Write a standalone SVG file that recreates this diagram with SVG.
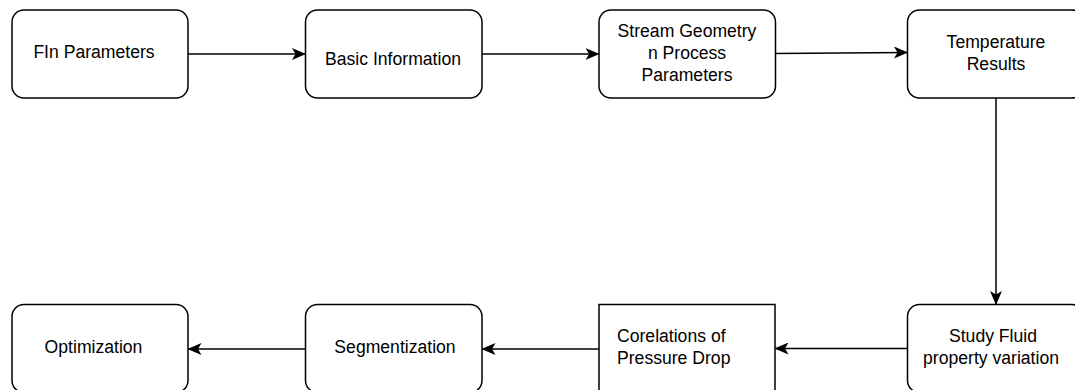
<svg xmlns="http://www.w3.org/2000/svg" width="1075" height="390" viewBox="0 0 1075 390">
<style>
.box{fill:#fff;stroke:#000;stroke-width:1.5}
.t{font-family:"Liberation Sans",Arial,sans-serif;font-size:17.6px;fill:#000;text-anchor:middle}
.l{text-anchor:start}
.c{fill:none;stroke:#000;stroke-width:1.5}
</style>
<defs>
<marker id="arr" markerUnits="userSpaceOnUse" markerWidth="14" markerHeight="12" viewBox="0 0 14 12" refX="13" refY="6" orient="auto">
<path d="M0,0 L14,6 L0,12 L3.5,6 Z" fill="#000"/>
</marker>
</defs>
<rect width="1075" height="390" fill="#fff"/>
<g id="fin"><rect class="box" x="12" y="10" width="176" height="88" rx="12"/><text class="t" x="94" y="58">FIn Parameters</text></g>
<g id="basic"><rect class="box" x="305.5" y="10" width="176.5" height="88" rx="12"/><text class="t" x="393" y="65">Basic Information</text></g>
<g id="stream"><rect class="box" x="599" y="10" width="176.5" height="88" rx="12"/><text class="t" x="687" y="37">Stream Geometry</text><text class="t" x="687" y="59">n Process</text><text class="t" x="687" y="80.5">Parameters</text></g>
<g id="temp"><rect class="box" x="907.5" y="10" width="176.5" height="88" rx="12"/><text class="t" x="996" y="47.5">Temperature</text><text class="t" x="996" y="69.5">Results</text></g>
<g id="study"><rect class="box" x="907.5" y="304.5" width="176.5" height="88" rx="12"/><text class="t" x="993" y="342">Study Fluid</text><text class="t" x="991" y="364">property variation</text></g>
<g id="corel"><rect class="box" x="599" y="304.5" width="176" height="88"/><text class="t l" x="617" y="342">Corelations of</text><text class="t l" x="617" y="364">Pressure Drop</text></g>
<g id="seg"><rect class="box" x="305.5" y="304.5" width="176.5" height="88" rx="12"/><text class="t" x="395" y="353">Segmentization</text></g>
<g id="opt"><rect class="box" x="12" y="304.5" width="176" height="88" rx="12"/><text class="t" x="93.5" y="353">Optimization</text></g>
<g id="connectors">
<line class="c" x1="188" y1="54" x2="305" y2="54" marker-end="url(#arr)"/>
<line class="c" x1="482" y1="54" x2="598.5" y2="54" marker-end="url(#arr)"/>
<line class="c" x1="775.5" y1="53.5" x2="907" y2="52.5" marker-end="url(#arr)"/>
<line class="c" x1="996" y1="98" x2="996" y2="304" marker-end="url(#arr)"/>
<line class="c" x1="907.5" y1="348.5" x2="775.5" y2="348.5" marker-end="url(#arr)"/>
<line class="c" x1="599" y1="349" x2="482.5" y2="349" marker-end="url(#arr)"/>
<line class="c" x1="305.5" y1="349" x2="188.5" y2="349" marker-end="url(#arr)"/>
</g>
</svg>
